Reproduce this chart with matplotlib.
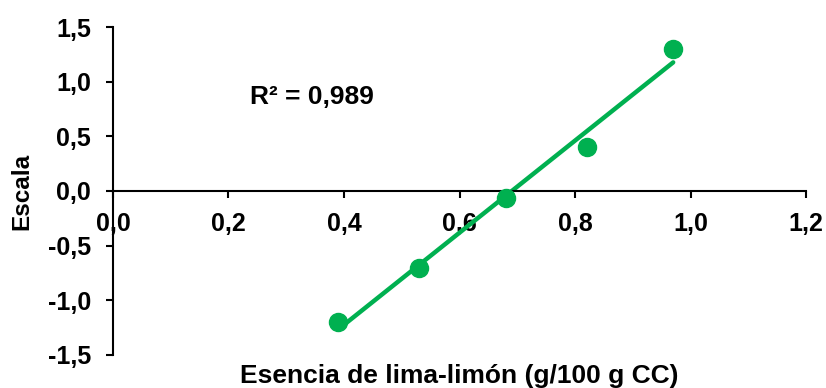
import numpy as np
import matplotlib
matplotlib.use("Agg")
import matplotlib.pyplot as plt

# Essential-oil dose vs. sensory scale
esencia = [0.39, 0.53, 0.68, 0.82, 0.97]
escala = [-1.20, -0.70, -0.065, 0.40, 1.30]
r2_text = "R² = 0,989"

x_ticks = [0.0, 0.2, 0.4, 0.6, 0.8, 1.0, 1.2]
y_ticks = [-1.5, -1.0, -0.5, 0.0, 0.5, 1.0, 1.5]

green = "#00B050"

plt.rcParams["font.family"] = ["Liberation Sans", "DejaVu Sans"]
plt.rcParams["font.weight"] = "bold"

fig = plt.figure(figsize=(8.26, 3.88), dpi=100)
ax = fig.add_axes([0.1368, 0.0851, 0.8390, 0.8453])

# linear trend line across the data range
slope, intercept = np.polyfit(esencia, escala, 1)
xs = np.array([min(esencia), max(esencia)])
ax.plot(xs, slope * xs + intercept, color=green, lw=3.2,
        solid_capstyle="round", zorder=2)
ax.plot(esencia, escala, "o", color=green, markersize=13, zorder=3)

ax.set_xlim(0, 1.2)
ax.set_ylim(-1.5, 1.5)
ax.set_xticks(x_ticks)
ax.set_yticks(y_ticks)
fmt = lambda v: f"{v:.1f}".replace(".", ",")
ax.set_xticklabels([fmt(v) for v in x_ticks])
ax.set_yticklabels([fmt(v) for v in y_ticks])

ax.spines["top"].set_visible(False)
ax.spines["right"].set_visible(False)
ax.spines["bottom"].set_position(("data", 0))
ax.spines["left"].set_position(("data", 0))
for s in ("bottom", "left"):
    ax.spines[s].set_linewidth(1.5)

ax.tick_params(axis="both", direction="out", length=5, width=1.5,
               labelsize=18)
ax.tick_params(axis="x", pad=10)
ax.tick_params(axis="y", pad=11)
for lab in ax.get_xticklabels() + ax.get_yticklabels():
    lab.set_fontweight("bold")

ax.set_xlabel("Esencia de lima-limón (g/100 g CC)", fontsize=19,
              fontweight="bold", va="bottom")
ax.xaxis.set_label_coords(0.5, -0.1)
ax.set_ylabel("Escala", fontsize=17.5, fontweight="bold", va="center")
ax.yaxis.set_label_coords(-0.131, 0.5)

ax.text(0.237, 0.86, r2_text, fontsize=19, fontweight="bold",
        ha="left", va="center")

fig.savefig("out.png", dpi=100)
